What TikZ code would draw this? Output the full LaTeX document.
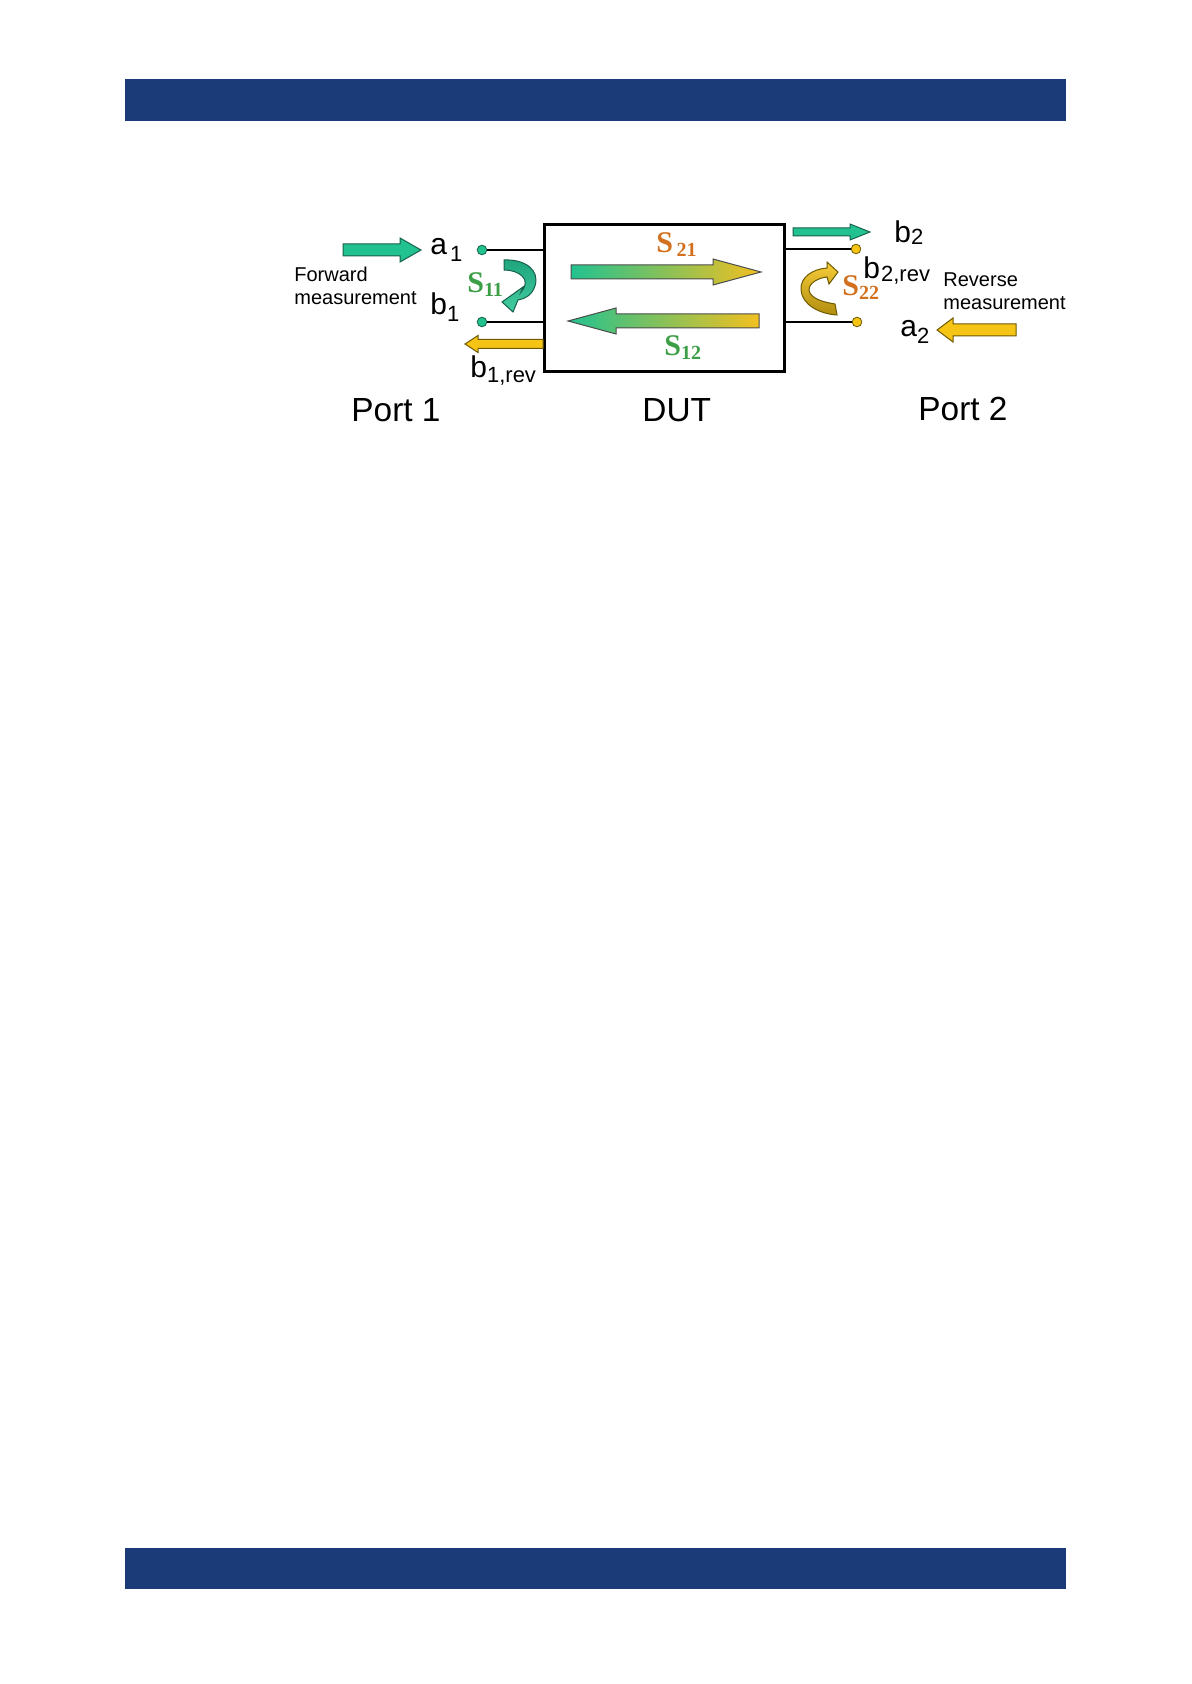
\documentclass[tikz,border=0pt]{standalone}
\usepackage{fontspec}
\setmainfont{Liberation Sans}
\newfontfamily\serifS{Liberation Serif}
\definecolor{navy}{HTML}{1B3A78}
\definecolor{teal}{HTML}{22C290}
\definecolor{tealdark}{HTML}{17604A}
\definecolor{yel}{HTML}{F5C415}
\definecolor{yelgrad}{HTML}{F2C020}
\definecolor{yeldark}{HTML}{6E5A00}
\definecolor{pale}{HTML}{E4E6A0}
\definecolor{orng}{HTML}{D2701E}
\definecolor{sgreen}{HTML}{3C9E46}
\newcommand\lab[3]{\fontsize{15}{18}\selectfont #2\raisebox{-#1}{\fontsize{11}{13}\selectfont #3}}
\newcommand\sname[2]{{\serifS\bfseries\fontsize{15}{18}\selectfont S#1\raisebox{-2pt}{\fontsize{10}{12}\selectfont #2}}}
\newcommand\blockarrow[7]{%
  \path[#1] (#2,#5-#6) -- (#3,#5-#6) -- (#3,#5-#7) -- (#4,#5) -- (#3,#5+#7) -- (#3,#5+#6) -- (#2,#5+#6) -- cycle;}
\begin{document}
\begin{tikzpicture}[x=0.5pt,y=-0.5pt,
  bar/.style={fill=navy,draw=none},
  tealarrow/.style={fill=teal,draw=tealdark,line width=0.5pt},
  yelarrow/.style={fill=yel,draw=yeldark,line width=0.5pt},
  gradarrow/.style={left color=teal,middle color=pale,right color=yelgrad,draw=black!70,line width=0.5pt},
  termline/.style={line width=1.1pt,draw=black},
  tdotg/.style={circle,draw=tealdark,fill=teal,inner sep=0pt,minimum size=4.8pt,line width=0.4pt},
  tdoty/.style={circle,draw=yeldark,fill=yel,inner sep=0pt,minimum size=4.8pt,line width=0.4pt},
  lbl/.style={anchor=base west,inner sep=0pt},
  small/.style={anchor=base west,inner sep=0pt,font=\fontsize{10}{12.5}\selectfont,align=left},
  port/.style={anchor=base west,inner sep=0pt,font=\fontsize{16.7}{20}\selectfont}]
\useasboundingbox (0,0) rectangle (1191,1684);
% header and footer bars
\path[bar] (125,79) rectangle (1066,121);
\path[bar] (125,1548) rectangle (1066,1589);
% DUT box
\node[draw,line width=1.3pt,minimum width=120pt,minimum height=73.5pt,inner sep=0pt,anchor=north west] (dut) at (543,223) {};
% terminals
\node[tdotg] (t1) at (482,250) {};
\node[tdotg] (t2) at (482,322) {};
\node[tdoty] (t3) at (856,249) {};
\node[tdoty] (t4) at (857,322) {};
\draw[termline] (t1) -- (t1 -| dut.west);
\draw[termline] (t2) -- (t2 -| dut.west);
\draw[termline] (t3) -- (t3 -| dut.east);
\draw[termline] (t4) -- (t4 -| dut.east);
% straight block arrows
\blockarrow{tealarrow}{343}{400}{421}{250}{6}{12}
\blockarrow{yelarrow}{543}{478}{465}{344}{4.5}{8.5}
\blockarrow{tealarrow}{793}{850}{870}{232}{4}{8}
\blockarrow{yelarrow}{1016}{953}{937}{330}{6}{12}
% S21 / S12 gradient arrows
\blockarrow{gradarrow}{571}{713}{761}{272}{7}{13}
\blockarrow{gradarrow}{759}{616}{568}{321}{7}{13}
% S11 curved arrow
\path[top color=teal!70!tealdark,bottom color=teal!85!white,draw=tealdark,line width=0.5pt]
  (504,260) .. controls (525,259) and (540,270) .. (535,286)
  .. controls (532,295) and (525,299) .. (518,300)
  -- (513,312) -- (502,302) -- (523,287) -- (521,292)
  .. controls (526,287) and (527,280) .. (522,276)
  .. controls (518,272) and (511,270) .. (504,270) -- cycle;
% S22 curved arrow
\path[top color=yel!85!white,bottom color=yel!72!black,draw=yeldark,line width=0.5pt]
  (835,304) .. controls (822,302) and (810,298) .. (809,290)
  .. controls (809,283) and (818,278) .. (827,277)
  -- (829,284) -- (838,272) -- (827,262) -- (827,268)
  .. controls (813,269) and (800,277) .. (801,290)
  .. controls (802,305) and (820,314) .. (837,315) -- cycle;
% labels
\node[lbl] (la1) at (430,255) {\lab{3.5pt}{a}{\hspace{1.5pt}1}};
\node[lbl] (lb1) at (430,315) {\lab{3.5pt}{b}{1}};
\node[lbl] (lb1r) at (470,378) {\lab{2.5pt}{b}{1,rev}};
\node[lbl] (lb2) at (894,243) {\lab{1pt}{b}{2}};
\node[lbl] (lb2r) at (863,279) {\lab{1.5pt}{b}{\hspace{0.5pt}2,rev}};
\node[lbl] (la2) at (900,337) {\lab{3.5pt}{a}{2}};
\node[small] (fwd) at (294,282) {Forward};
\node[small] (fwd2) at (294,305) {measurement};
\node[small] (rev) at (943,287) {Reverse};
\node[small] (rev2) at (943,310) {measurement};
\node[port] (p1) at (351,422) {Port 1};
\node[port] (pd) at (642,422) {DUT};
\node[port] (p2) at (918,421) {Port 2};
% S-parameter labels
\node[lbl,text=orng] (s21) at (656,253) {\sname{\hspace{1.8pt}}{21}};
\node[lbl,text=sgreen] (s12) at (664,356) {\sname{}{12}};
\node[lbl,text=sgreen] (s11) at (467,293) {\sname{}{11}};
\node[lbl,text=orng] (s22) at (842,296) {\sname{}{22}};
\end{tikzpicture}
\end{document}
